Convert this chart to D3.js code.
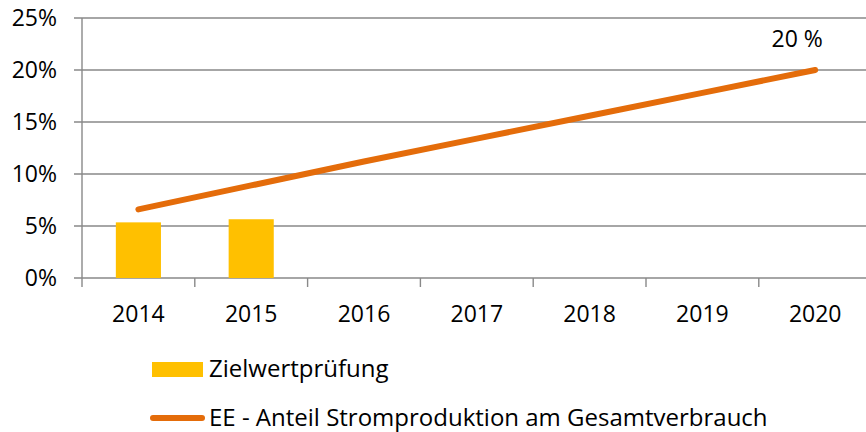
<!DOCTYPE html>
<html>
<head>
<meta charset="utf-8">
<script src="https://cdn.jsdelivr.net/npm/d3@7/dist/d3.min.js"></script>
<style>
  html, body { margin: 0; padding: 0; background: #fff; overflow: hidden; }
  svg { display: block; font-family: "Open Sans", sans-serif; }
</style>
</head>
<body>
<svg id="chart" width="866" height="432"></svg>
<script>
const categories = ["2014", "2015", "2016", "2017", "2018", "2019", "2020"];
const barValues = [5.35, 5.65, null, null, null, null, null];
const lineValues = [6.6, 8.9, 11.2, 13.4, 15.6, 17.8, 20.0];
const yTicks = [0, 5, 10, 15, 20, 25];
const barLabel = "Zielwertprüfung";
const lineLabel = "EE - Anteil Stromproduktion am Gesamtverbrauch";
const endLabel = "20 %";

(function () {
const svg = d3.select("#chart");
const mLeft = 82, mRight = 871.6, mTop = 18, mBottom = 278;

const x = d3.scaleBand().domain(categories).range([mLeft, mRight]).paddingInner(0).paddingOuter(0);
const y = d3.scaleLinear().domain([0, 25]).range([mBottom, mTop]);

const gridColor = "#898989";

svg.append("g").selectAll("line").data(yTicks).join("line")
  .attr("x1", mLeft - 8).attr("x2", 866)
  .attr("y1", d => y(d)).attr("y2", d => y(d))
  .attr("stroke", gridColor).attr("stroke-width", 1.4);

svg.append("line")
  .attr("x1", mLeft).attr("x2", mLeft).attr("y1", mTop).attr("y2", mBottom + 9)
  .attr("stroke", gridColor).attr("stroke-width", 1.4);

svg.append("g").selectAll("line").data(categories.slice(1)).join("line")
  .attr("x1", d => x(d)).attr("x2", d => x(d))
  .attr("y1", mBottom).attr("y2", mBottom + 9)
  .attr("stroke", gridColor).attr("stroke-width", 1.4);

svg.append("g").selectAll("text").data(yTicks).join("text")
  .attr("x", 57).attr("y", d => y(d)).attr("dy", "0.36em")
  .attr("text-anchor", "end").attr("font-size", 23).attr("fill", "#000")
  .text(d => d + "%");

svg.append("g").selectAll("text").data(categories).join("text")
  .attr("x", d => x(d) + x.bandwidth() / 2).attr("y", 321.5)
  .attr("text-anchor", "middle").attr("font-size", 23).attr("fill", "#000")
  .text(d => d);

const barW = x.bandwidth() * 0.4;
svg.append("g").selectAll("rect")
  .data(categories.map((c, i) => ({ c, v: barValues[i] })).filter(d => d.v != null))
  .join("rect")
  .attr("x", d => x(d.c) + x.bandwidth() / 2 - barW / 2)
  .attr("y", d => y(d.v))
  .attr("width", barW)
  .attr("height", d => y(0) - y(d.v))
  .attr("fill", "#FFC000");

const pts = categories.map((c, i) => [x(c) + x.bandwidth() / 2, y(lineValues[i])]);
svg.append("path")
  .attr("d", d3.line()(pts))
  .attr("fill", "none").attr("stroke", "#E46C0A")
  .attr("stroke-width", 6).attr("stroke-linecap", "round").attr("stroke-linejoin", "round");

const last = pts[pts.length - 1];
svg.append("text")
  .attr("x", last[0] - 18).attr("y", last[1] - 23)
  .attr("text-anchor", "middle").attr("font-size", 23).attr("fill", "#000")
  .text(endLabel);

svg.append("rect").attr("x", 152).attr("y", 362).attr("width", 51).attr("height", 15).attr("fill", "#FFC000");
svg.append("text").attr("x", 209).attr("y", 377).attr("font-size", 24).attr("fill", "#000").text(barLabel);
svg.append("line").attr("x1", 153).attr("x2", 202).attr("y1", 418).attr("y2", 418)
  .attr("stroke", "#E46C0A").attr("stroke-width", 6).attr("stroke-linecap", "round");
svg.append("text").attr("x", 209).attr("y", 426).attr("font-size", 24).attr("fill", "#000").text(lineLabel);
})();
</script>
</body>
</html>
